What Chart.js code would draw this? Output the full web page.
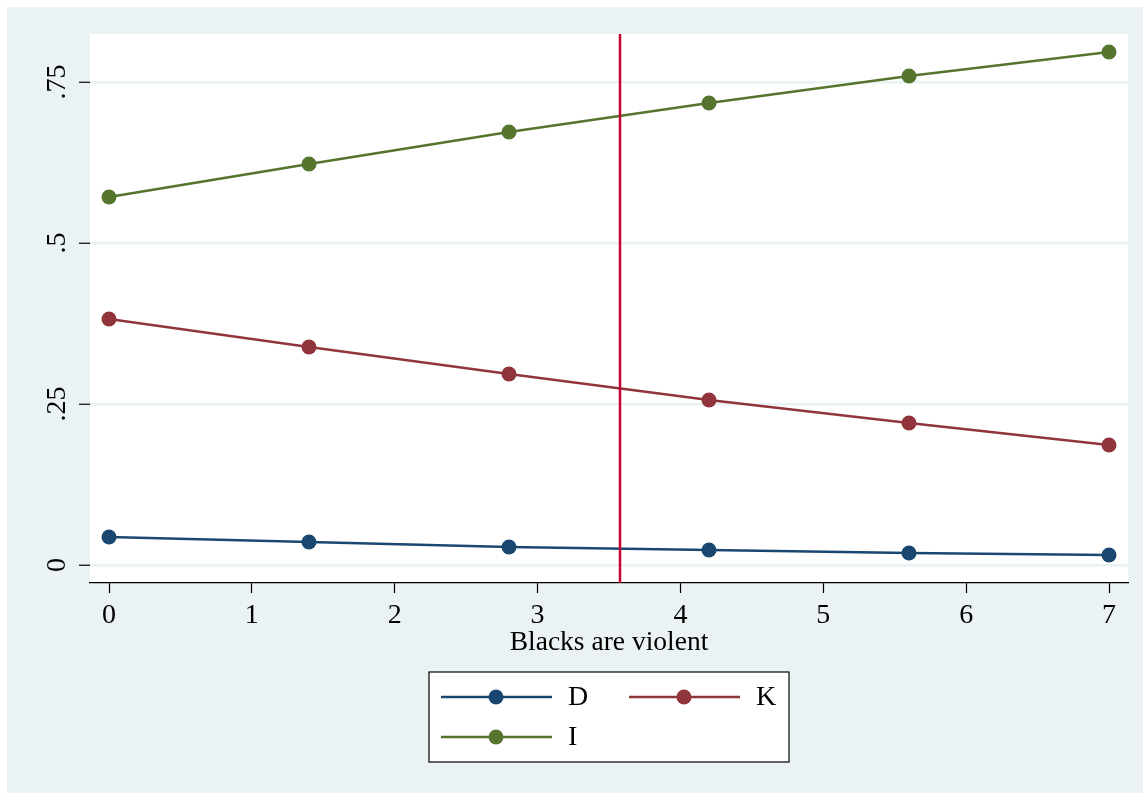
<!DOCTYPE html>
<html>
<head>
<meta charset="utf-8">
<script src="https://cdn.jsdelivr.net/npm/chart.js@4/dist/chart.umd.min.js"></script>
<style>
    html, body { margin: 0; padding: 0; background: #ffffff; }
    #wrap { width: 1143px; height: 793px; position: relative; }
</style>
</head>
<body>
<div id="wrap"><canvas id="chart" width="1143" height="793"></canvas></div>
<script>
// Data
const xValues = [0, 1.4, 2.8, 4.2, 5.6, 7];
const seriesD = [0.0435, 0.0357, 0.0280, 0.0233, 0.0186, 0.0155];
const seriesK = [0.3820, 0.3385, 0.2966, 0.2562, 0.2205, 0.1863];
const seriesI = [0.5714, 0.6227, 0.6724, 0.7174, 0.7593, 0.7966];
const seriesLabels = ['D', 'K', 'I'];
const xTicks = [0, 1, 2, 3, 4, 5, 6, 7];
const yTicks = [0, 0.25, 0.5, 0.75];
const yTickLabels = ['0', '.25', '.5', '.75'];
const cutoffX = 3.577;
const xTitle = 'Blacks are violent';

const colors = ['#1a476f', '#90353b', '#55752f'];
const FONT = '"Liberation Serif", "Times New Roman", serif';

function toPoints(ys) {
    return xValues.map((x, i) => ({ x: x, y: ys[i] }));
}

const datasets = [seriesD, seriesK, seriesI].map((ys, i) => ({
    label: seriesLabels[i],
    data: toPoints(ys),
    showLine: true,
    borderColor: colors[i],
    backgroundColor: colors[i],
    borderWidth: 2.4,
    pointRadius: 7.5,
    pointHoverRadius: 7.5,
    pointBorderWidth: 0
}));

// Background, cutoff line, rotated y labels, x title and legend box
const stataPlugin = {
    id: 'stata',
    beforeDraw(chart) {
        const ctx = chart.ctx;
        const a = chart.chartArea;
        ctx.save();
        ctx.fillStyle = '#ffffff';
        ctx.fillRect(0, 0, chart.width, chart.height);
        ctx.fillStyle = '#eaf2f3';
        ctx.fillRect(7, 7, chart.width - 7, chart.height - 7);
        ctx.fillStyle = '#ffffff';
        ctx.fillRect(a.left, a.top, a.right - a.left, a.bottom - a.top);
        ctx.restore();
    },
    afterDatasetsDraw(chart) {
        const ctx = chart.ctx;
        const a = chart.chartArea;
        const xs = chart.scales.x;
        const ys = chart.scales.y;
        ctx.save();
        // cutoff line
        const px = xs.getPixelForValue(cutoffX);
        ctx.strokeStyle = '#c10534';
        ctx.lineWidth = 2.5;
        ctx.beginPath();
        ctx.moveTo(px, a.top);
        ctx.lineTo(px, a.bottom);
        ctx.stroke();

        // rotated y tick labels
        ctx.fillStyle = '#000000';
        ctx.font = '28px ' + FONT;
        ctx.textAlign = 'center';
        ctx.textBaseline = 'middle';
        yTicks.forEach((v, i) => {
            const py = ys.getPixelForValue(v);
            ctx.save();
            ctx.translate(58, py);
            ctx.rotate(-Math.PI / 2);
            ctx.fillText(yTickLabels[i], 0, 0);
            ctx.restore();
        });

        // x axis title
        ctx.font = '27.5px ' + FONT;
        ctx.fillText(xTitle, (a.left + a.right) / 2, 643);

        // legend box
        const bx = 429, by = 672, bw = 360, bh = 90;
        ctx.fillStyle = '#ffffff';
        ctx.fillRect(bx, by, bw, bh);
        ctx.strokeStyle = '#000000';
        ctx.lineWidth = 1.2;
        ctx.strokeRect(bx, by, bw, bh);
        const slots = [
            { x: 441, y: 697 },
            { x: 629, y: 697 },
            { x: 441, y: 737 }
        ];
        chart.data.datasets.forEach((ds, i) => {
            const s = slots[i];
            ctx.strokeStyle = ds.borderColor;
            ctx.lineWidth = 2.4;
            ctx.beginPath();
            ctx.moveTo(s.x, s.y);
            ctx.lineTo(s.x + 111, s.y);
            ctx.stroke();
            ctx.fillStyle = ds.backgroundColor;
            ctx.beginPath();
            ctx.arc(s.x + 55, s.y, 7.5, 0, Math.PI * 2);
            ctx.fill();
            ctx.fillStyle = '#000000';
            ctx.font = '28px ' + FONT;
            ctx.textAlign = 'left';
            ctx.fillText(ds.label, s.x + 127, s.y + 1);
        });
        ctx.restore();
    }
};

new Chart(document.getElementById('chart'), {
    type: 'scatter',
    data: { datasets: datasets },
    options: {
        responsive: false,
        animation: false,
        events: [],
        layout: { padding: { left: 0, top: 34, right: 15, bottom: 0 } },
        plugins: {
            legend: { display: false },
            tooltip: { enabled: false }
        },
        scales: {
            x: {
                type: 'linear',
                min: -0.133,
                max: 7.133,
                afterBuildTicks: (scale) => { scale.ticks = xTicks.map(v => ({ value: v })); },
                afterFit: (scale) => { scale.height = 210; },
                grid: {
                    drawOnChartArea: false,
                    drawTicks: true,
                    tickLength: 10,
                    tickColor: '#000000',
                    tickWidth: 1.2
                },
                border: { display: true, color: '#000000', width: 1.2 },
                ticks: {
                    color: '#000000',
                    font: { family: FONT, size: 28 },
                    padding: 6,
                    maxRotation: 0,
                    callback: (v) => String(v)
                }
            },
            y: {
                type: 'linear',
                min: -0.028,
                max: 0.8245,
                afterBuildTicks: (scale) => { scale.ticks = yTicks.map(v => ({ value: v })); },
                afterFit: (scale) => { scale.width = 90; },
                grid: {
                    color: '#eaf2f3',
                    lineWidth: 2.5,
                    drawTicks: true,
                    tickLength: 11,
                    tickColor: '#000000',
                    tickWidth: 1.2
                },
                border: { display: false },
                ticks: { display: false }
            }
        }
    },
    plugins: [stataPlugin]
});
</script>
</body>
</html>
